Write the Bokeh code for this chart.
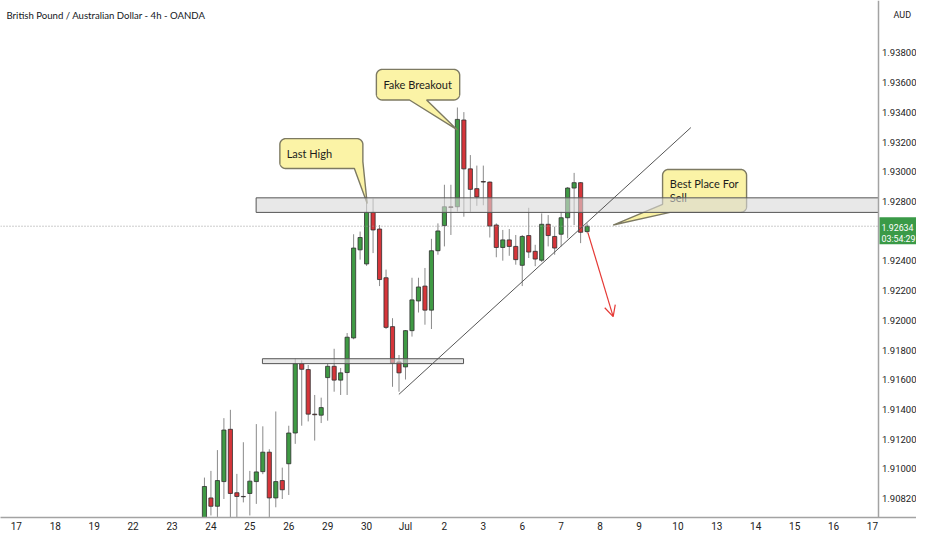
import numpy as np
from bokeh.plotting import figure
from bokeh.models import Range1d, FixedTicker, Arrow, OpenHead
from bokeh.core.properties import value
from bokeh.embed import file_html
from bokeh.resources import INLINE

# ---------------- data ----------------
title_text = "British Pound / Australian Dollar - 4h - OANDA"
currency = "AUD"
day_labels = ["17", "18", "19", "22", "23", "24", "25", "26", "29", "30", "Jul",
              "2", "3", "6", "7", "8", "9", "10", "13", "14", "15", "16", "17"]
bars_per_day = 6
bar_idx = list(range(29, 89))
opens = [1.90660, 1.90805, 1.90749, 1.90915, 1.91267, 1.90840, 1.90815, 1.90835, 1.90915, 1.90982,
         1.91113, 1.90805, 1.90922, 1.91035, 1.91242, 1.91709, 1.91669, 1.91369, 1.91362, 1.91615,
         1.91691, 1.91598, 1.91649, 1.91882, 1.92475, 1.92380, 1.92727, 1.92615, 1.92287, 1.91958,
         1.91720, 1.91687, 1.91931, 1.92131, 1.92231, 1.92069, 1.92469, 1.92638, 1.92765, 1.92765,
         1.93349, 1.93020, 1.92887, 1.92935, 1.92931, 1.92642, 1.92491, 1.92542, 1.92498, 1.92371,
         1.92571, 1.92465, 1.92405, 1.92647, 1.92565, 1.92580, 1.92691, 1.92891, 1.92927, 1.92598]
highs = [1.90942, 1.90987, 1.91127, 1.91342, 1.91398, 1.90967, 1.91180, 1.90987, 1.91302, 1.91287,
         1.91133, 1.91387, 1.91009, 1.91291, 1.91742, 1.91731, 1.91700, 1.91498, 1.91480, 1.91709,
         1.91809, 1.91680, 1.91915, 1.92580, 1.92598, 1.92800, 1.92820, 1.92642, 1.92342, 1.92015,
         1.91767, 1.91935, 1.92287, 1.92287, 1.92353, 1.92549, 1.92653, 1.92913, 1.92913, 1.93433,
         1.93402, 1.93113, 1.93042, 1.93042, 1.92935, 1.92653, 1.92609, 1.92615, 1.92575, 1.92575,
         1.92758, 1.92509, 1.92720, 1.92709, 1.92631, 1.92731, 1.92898, 1.92993, 1.92931, 1.92653]
lows = [1.90620, 1.90687, 1.90653, 1.90798, 1.90667, 1.90653, 1.90775, 1.90687, 1.90765, 1.90965,
        1.90669, 1.90742, 1.90798, 1.90825, 1.91169, 1.91291, 1.91320, 1.91191, 1.91309, 1.91325,
        1.91520, 1.91498, 1.91498, 1.91873, 1.92409, 1.92367, 1.92453, 1.92231, 1.91942, 1.91553,
        1.91520, 1.91602, 1.91891, 1.92053, 1.91971, 1.91942, 1.92442, 1.92498, 1.92575, 1.92733,
        1.92698, 1.92731, 1.92771, 1.92775, 1.92558, 1.92425, 1.92402, 1.92435, 1.92375, 1.92231,
        1.92420, 1.92365, 1.92393, 1.92498, 1.92442, 1.92498, 1.92553, 1.92642, 1.92520, 1.92587]
closes = [1.90882, 1.90749, 1.90922, 1.91262, 1.90835, 1.90815, 1.90813, 1.90918, 1.90980, 1.91113,
          1.90805, 1.90915, 1.90860, 1.91242, 1.91709, 1.91671, 1.91369, 1.91365, 1.91413, 1.91691,
          1.91598, 1.91647, 1.91887, 1.92487, 1.92558, 1.92727, 1.92609, 1.92275, 1.91953, 1.91713,
          1.91647, 1.91931, 1.92138, 1.92225, 1.92069, 1.92469, 1.92602, 1.92765, 1.92760, 1.93353,
          1.93020, 1.92882, 1.92831, 1.92931, 1.92635, 1.92491, 1.92542, 1.92498, 1.92409, 1.92565,
          1.92460, 1.92413, 1.92647, 1.92571, 1.92487, 1.92691, 1.92891, 1.92927, 1.92593, 1.92634]
price_ticks = [1.908, 1.910, 1.912, 1.914, 1.916, 1.918, 1.920, 1.922, 1.924,
               1.928, 1.930, 1.932, 1.934, 1.936, 1.938]
price_tick_labels = ["1.90820", "1.91000", "1.91200", "1.91400", "1.91600", "1.91800", "1.92000",
                     "1.92200", "1.92400", "1.92800", "1.93000", "1.93200", "1.93400", "1.93600",
                     "1.93800"]
last_price = 1.92634
last_price_lines = ["1.92634", "03:54:29"]

# drawings (in bar index / price)
zone_left = [36.97, 37.94]
zone_right_end = [None, 68.95]       # None = extends to the price scale
zone_top = [1.92825, 1.91742]
zone_bottom = [1.92727, 1.91709]
trend_x = [58.98, 104.0]
trend_y = [1.91502, 1.93298]
arrow_x = [88.11, 92.02]
arrow_y = [1.92593, 1.92025]
callout_texts = [["Last High"], ["Fake Breakout"], ["Best Place For", "Sell"]]
callout_tip_x = [54.09, 68.0, 92.02]
callout_tip_y = [1.92787, 1.93282, 1.92642]

# ---------------- layout ----------------
W, H = 916, 534
AXIS_PX = 878              # x pixel of the price-scale separator
BOTTOM_PX = 16             # height of the time axis panel
FRAME_H = H - BOTTOM_PX
X0 = -2.445                # first visible bar position (left edge)
X_AXIS = 132.93            # bar position at the price-scale separator
SX = AXIS_PX / (X_AXIS - X0)
X1 = X0 + W / SX
Y0, Y1 = 1.906733, 1.941533
SY = FRAME_H / (Y1 - Y0)
FONT_TXT = "Lato"
FONT_NUM = "Roboto"

p = figure(width=W, height=H, x_range=Range1d(X0, X1), y_range=Range1d(Y0, Y1),
           output_backend="svg", toolbar_location=None, y_axis_location=None,
           min_border_left=0, min_border_top=0, min_border_right=0,
           min_border_bottom=BOTTOM_PX)
p.background_fill_color = "white"
p.border_fill_color = "white"
p.outline_line_color = None
p.xgrid.visible = False
p.ygrid.visible = False

xa = p.xaxis[0]
xa.ticker = FixedTicker(ticks=[bars_per_day * i for i in range(len(day_labels))])
xa.major_label_overrides = {bars_per_day * i: t for i, t in enumerate(day_labels)}
xa.major_tick_out = 0
xa.major_tick_in = 0
xa.minor_tick_out = 0
xa.minor_tick_in = 0
xa.major_label_standoff = 3
xa.axis_line_color = "#a3a3a3"
xa.axis_line_width = 1.5
xa.major_label_text_font = FONT_NUM
xa.major_label_text_font_size = "10px"
xa.major_label_text_color = "#222222"

# ---------------- candles ----------------
o = np.array(opens); c = np.array(closes); h = np.array(highs); l = np.array(lows)
x = np.array(bar_idx, dtype=float)
up = c >= o
colors = np.where(up, "#3f9a44", "#d6353a")
p.segment(x, h, x, l, line_color="#8a8a8a", line_width=1)
p.vbar(x=x, width=0.64, top=np.maximum(o, c), bottom=np.minimum(o, c),
       fill_color=list(colors), line_color="#2e2e2e", line_width=0.8)

# ---------------- callouts ----------------
def rounded_rect(lft, top, rgt, bot, rad=6.0, n=40):
    pts = []
    def line(a, b):
        k = max(int(np.hypot(b[0] - a[0], b[1] - a[1]) * 2), 2)
        for t in np.linspace(0, 1, k, endpoint=False):
            pts.append((a[0] + (b[0] - a[0]) * t, a[1] + (b[1] - a[1]) * t))
    def arc(cx, cy, a0, a1):
        for a in np.linspace(a0, a1, n, endpoint=False):
            pts.append((cx + rad * np.cos(a), cy + rad * np.sin(a)))
    line((lft + rad, top), (rgt - rad, top))
    arc(rgt - rad, top + rad, -np.pi / 2, 0)
    line((rgt, top + rad), (rgt, bot - rad))
    arc(rgt - rad, bot - rad, 0, np.pi / 2)
    line((rgt - rad, bot), (lft + rad, bot))
    arc(lft + rad, bot - rad, np.pi / 2, np.pi)
    line((lft, bot - rad), (lft, top + rad))
    arc(lft + rad, top + rad, np.pi, 1.5 * np.pi)
    return pts

# box (left, top, right, bottom) and tail base points, pixel offsets from the tip
callout_geo = [
    dict(box=(-87.3, -65.0, -4.3, -35.0), b1=(-4.3, -42.0), b2=(-13.0, -35.0), txt=(-80.5, -50.0)),
    dict(box=(-81.0, -60.7, 2.3, -30.0), b1=(-31.0, -30.0), b2=(-47.7, -30.0), txt=(-74.0, -45.5)),
    dict(box=(49.4, -55.7, 133.4, -12.7), b1=(56.7, -12.7), b2=(49.4, -20.7), txt=(56.7, -41.5)),
]

tx_all, ty_all, tt_all = [], [], []
for texts, tipx, tipy, g in zip(callout_texts, callout_tip_x, callout_tip_y, callout_geo):
    pts = rounded_rect(*g["box"])
    arr = np.array(pts)
    i1 = int(np.argmin(np.hypot(arr[:, 0] - g["b1"][0], arr[:, 1] - g["b1"][1])))
    i2 = int(np.argmin(np.hypot(arr[:, 0] - g["b2"][0], arr[:, 1] - g["b2"][1])))
    if i1 > i2:
        i1, i2 = i2, i1
    poly = pts[:i1 + 1] + [(0.0, 0.0)] + pts[i2:]
    px = [tipx + q[0] / SX for q in poly]
    py = [tipy - q[1] / SY for q in poly]
    p.patch(px, py, fill_color="#fbf3a6", line_color="#7d7a62", line_width=1.4)
    for k, t in enumerate(texts):
        tx_all.append(tipx + g["txt"][0] / SX)
        ty_all.append(tipy - (g["txt"][1] + 14.0 * k) / SY)
        tt_all.append(t)

p.text(x=tx_all, y=ty_all, text=tt_all, text_font=value(FONT_TXT), text_font_size="11px",
       text_baseline="middle", text_align="left", text_color="#1c1c1c")

# ---------------- zones, lines ----------------
zone_right = [X_AXIS if r is None else r for r in zone_right_end]
p.quad(left=zone_left, right=zone_right, top=zone_top, bottom=zone_bottom,
       fill_color="#d8d8d8", fill_alpha=0.6, line_color="#555555", line_width=1)
p.line(trend_x, trend_y, line_color="#555555", line_width=1)
p.add_layout(Arrow(end=OpenHead(size=11, line_color="#e53935", line_width=1.2),
                   x_start=arrow_x[0], y_start=arrow_y[0], x_end=arrow_x[1], y_end=arrow_y[1],
                   line_color="#e53935", line_width=1.2))
p.segment(x0=[X0], y0=[last_price], x1=[X_AXIS], y1=[last_price], line_color="#9a9a9a",
          line_dash="1 2", line_width=1)

# ---------------- price scale (right) ----------------
p.segment(x0=[X_AXIS], y0=[Y0], x1=[X_AXIS], y1=[Y1], line_color="#a3a3a3", line_width=1.5)
p.text(x=[X_AXIS + 3.5 / SX] * len(price_ticks), y=price_ticks, text=price_tick_labels,
       text_font=value(FONT_NUM), text_font_size="9.5px", text_baseline="middle",
       text_align="left", text_color="#222222")
p.text(x=[X_AXIS + 15 / SX], y=[Y1 - 15 / SY], text=[currency], text_font=value(FONT_NUM),
       text_font_size="9px", text_baseline="middle", text_align="left", text_color="#222222")
# current price tag
p.quad(left=[X_AXIS + 1 / SX], right=[X1], top=[last_price + 9 / SY], bottom=[last_price - 18 / SY],
       fill_color="#3a9a47", line_color=None)
p.text(x=[X_AXIS + 3 / SX] * 2, y=[last_price - 1.5 / SY, last_price - 13 / SY], text=last_price_lines,
       text_font=value(FONT_NUM), text_font_size="8.8px", text_baseline="middle",
       text_align="left", text_color="white")

# ---------------- title ----------------
p.text(x=[X0 + 6 / SX], y=[Y1 - 15 / SY], text=[title_text], text_font=value(FONT_TXT),
       text_font_size="9.6px", text_baseline="middle", text_align="left", text_color="#131722")

open("out.html", "w").write(file_html(p, INLINE))
